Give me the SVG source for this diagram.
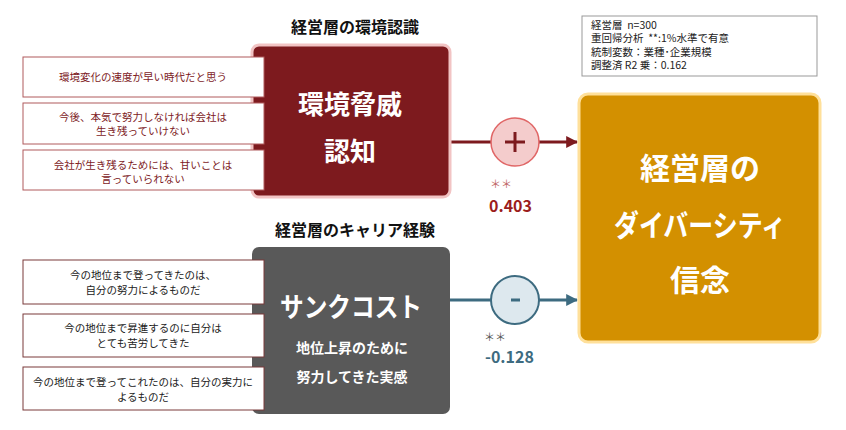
<svg xmlns="http://www.w3.org/2000/svg" width="846" height="430" viewBox="0 0 846 430">
<defs>
<style>
text{font-family:"Noto Sans CJK JP","Noto Sans",sans-serif}
.title{font-size:16px;font-weight:bold;fill:#111;text-anchor:middle}
.stmtT{fill:#fff;stroke:#b05a5d;stroke-width:1}
.stmtB{fill:#fff;stroke:#7a3a3a;stroke-width:1}
.tT{font-size:10.5px;fill:#7d1a1e;text-anchor:middle}
.tB{font-size:10.5px;fill:#222;text-anchor:middle}
.big{fill:#fff;font-weight:bold;text-anchor:middle}
.note{font-size:10.5px;fill:#222}
</style>
<marker id="arrR" viewBox="0 0 10 10" refX="9" refY="5" markerWidth="4" markerHeight="4" orient="auto" markerUnits="strokeWidth"><path d="M0,0 L10,5 L0,10 z" fill="#7d1a1e"/></marker>
<marker id="arrB" viewBox="0 0 10 10" refX="9" refY="5" markerWidth="4" markerHeight="4" orient="auto" markerUnits="strokeWidth"><path d="M0,0 L10,5 L0,10 z" fill="#3d6b80"/></marker>
</defs>
<rect width="846" height="430" fill="#fff"/>

<g id="connectors">
<line x1="450" y1="142" x2="577" y2="142" stroke="#7d1a1e" stroke-width="3" marker-end="url(#arrR)"/>
<line x1="450" y1="300" x2="577" y2="300" stroke="#3d6b80" stroke-width="3" marker-end="url(#arrB)"/>
</g>

<g id="node-env">
<text class="title" x="355" y="33">経営層の環境認識</text>
<rect x="252" y="45" width="198" height="152" rx="7" fill="#7d1a1e" stroke="#f2c4c4" stroke-width="3"/>
<text class="big" x="350" y="114" font-size="26">環境脅威</text>
<text class="big" x="350" y="161" font-size="26">認知</text>
</g>
<g id="stmt-env-1">
<rect class="stmtT" x="23" y="57" width="241" height="40"/>
<text class="tT" x="143" y="81">環境変化の速度が早い時代だと思う</text>
</g>
<g id="stmt-env-2">
<rect class="stmtT" x="23" y="103" width="241" height="41"/>
<text class="tT" x="143" y="120.5">今後、本気で努力しなければ会社は</text>
<text class="tT" x="143" y="134.5">生き残っていけない</text>
</g>
<g id="stmt-env-3">
<rect class="stmtT" x="23" y="150" width="241" height="40"/>
<text class="tT" x="143" y="168.5">会社が生き残るためには、甘いことは</text>
<text class="tT" x="143" y="182.5">言っていられない</text>
</g>

<g id="node-sunk">
<text class="title" x="355" y="236">経営層のキャリア経験</text>
<rect x="252" y="247" width="198" height="167" rx="7" fill="#595959"/>
<text class="big" x="351" y="317" font-size="27" textLength="142" lengthAdjust="spacingAndGlyphs">サンクコスト</text>
<text class="big" x="352" y="353" font-size="14">地位上昇のために</text>
<text class="big" x="352" y="382" font-size="14">努力してきた実感</text>
</g>
<g id="stmt-sunk-1">
<rect class="stmtB" x="23" y="260" width="241" height="44"/>
<text class="tB" x="143" y="279">今の地位まで登ってきたのは、</text>
<text class="tB" x="143" y="294">自分の努力によるものだ</text>
</g>
<g id="stmt-sunk-2">
<rect class="stmtB" x="23" y="314" width="241" height="43"/>
<text class="tB" x="143" y="332">今の地位まで昇進するのに自分は</text>
<text class="tB" x="143" y="347">とても苦労してきた</text>
</g>
<g id="stmt-sunk-3">
<rect class="stmtB" x="23" y="367" width="241" height="43"/>
<text class="tB" x="143" y="386">今の地位まで登ってこれたのは、自分の実力に</text>
<text class="tB" x="143" y="401">よるものだ</text>
</g>

<g id="plus">
<circle cx="515" cy="142" r="24" fill="#f4cccc" stroke="#e06666" stroke-width="1.5"/>
<path d="M505,142 H525 M515,132 V152" stroke="#7d1a1e" stroke-width="3"/>
<text x="490" y="188" font-size="11" fill="#c06666">＊＊</text>
<text x="489" y="212" font-size="16" font-weight="bold" fill="#9b1c1c">0.403</text>
</g>
<g id="minus">
<circle cx="515" cy="300" r="24" fill="#dde8ee" stroke="#3d6b80" stroke-width="2"/>
<rect x="511" y="298.5" width="9" height="3" fill="#3d6b80"/>
<text x="484" y="341" font-size="11" fill="#555">＊＊</text>
<text x="485" y="363" font-size="16" font-weight="bold" fill="#3d6b80">-0.128</text>
</g>

<g id="node-belief">
<rect x="579" y="94" width="241" height="248" rx="9" fill="#d39000" stroke="#ffe09a" stroke-width="3"/>
<text class="big" x="700" y="179" font-size="30">経営層の</text>
<text class="big" x="700" y="236" font-size="30" textLength="172" lengthAdjust="spacingAndGlyphs">ダイバーシティ</text>
<text class="big" x="700" y="291" font-size="30">信念</text>
</g>

<g id="note">
<rect x="582" y="16" width="235" height="60" fill="#fff" stroke="#999" stroke-width="1"/>
<text class="note" x="591" y="28.5">経営層&#160;&#160;n=300</text>
<text class="note" x="591" y="42">重回帰分析&#160;&#160;**:1%水準で有意</text>
<text class="note" x="591" y="55.5">統制変数：業種･企業規模</text>
<text class="note" x="591" y="69">調整済 R2 乗：0.162</text>
</g>
</svg>
